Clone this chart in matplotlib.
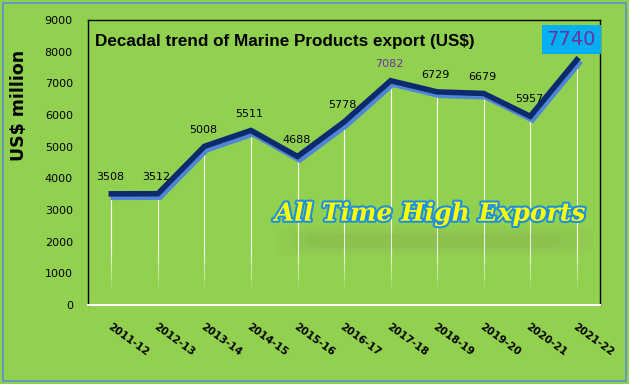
import matplotlib.pyplot as plt
import matplotlib.patheffects as pe
from matplotlib.patches import Rectangle, FancyBboxPatch

years = ['2011-12', '2012-13', '2013-14', '2014-15', '2015-16', '2016-17',
         '2017-18', '2018-19', '2019-20', '2020-21', '2021-22']
exports = [3508, 3512, 5008, 5511, 4688, 5778, 7082, 6729, 6679, 5957, 7740]
yticks = [0, 1000, 2000, 3000, 4000, 5000, 6000, 7000, 8000, 9000]

green = '#92D050'
navy = '#0E2A6E'

fig = plt.figure(figsize=(6.29, 3.84), dpi=100, facecolor=green)
ax = fig.add_axes([0.140, 0.206, 0.814, 0.742])
ax.set_facecolor(green)

x = list(range(len(years)))

# white drop lines, solid then fading near the axis
for i, v in zip(x, exports):
    ax.plot([i, i], [1800, v], color='white', lw=0.8, zorder=1)
    steps = 8
    for k in range(steps):
        y0 = 500 + 1300 * k / steps
        y1 = 500 + 1300 * (k + 1) / steps
        ax.plot([i, i], [y0, y1], color='white', lw=0.8,
                alpha=(k + 1) / (steps + 1), zorder=1)

ax.plot(x, exports, color=navy, lw=4, solid_joinstyle='miter', zorder=3,
        path_effects=[pe.SimpleLineShadow(offset=(1.5, -2.5), shadow_color='#4F86D6', alpha=1),
                      pe.Normal()])

for i, v in zip(x, exports):
    if years[i] == '2021-22':
        continue
    col = '#7030A0' if years[i] == '2017-18' else 'black'
    ax.annotate(str(v), (i, v), xytext=(-1, 8.5), textcoords='offset points',
                ha='center', va='bottom', fontsize=8, color=col)

ax.annotate(str(exports[-1]), (x[-1], exports[-1]), xytext=(-4, 8), textcoords='offset points',
            ha='center', va='bottom', fontsize=14, color='#7030A0',
            bbox=dict(boxstyle='square,pad=0.25', fc='#00B0F0', ec='none'))

ax.set_xlim(-0.5, len(years) - 0.5)
ax.set_ylim(0, 9000)
ax.set_yticks(yticks)
ax.set_xticks(x)
ax.set_xticklabels(years, rotation=-36, ha='left', va='top', fontsize=7.5,
                   fontweight='bold', rotation_mode='anchor')
ax.tick_params(axis='x', length=0, pad=12)
ax.tick_params(axis='y', length=0, pad=11, labelsize=8)

for s in ['left', 'top', 'right']:
    ax.spines[s].set_color('black')
    ax.spines[s].set_linewidth(1)
ax.spines['bottom'].set_color('white')
ax.spines['bottom'].set_linewidth(1.5)

ax.text(0.013, 0.926, 'Decadal trend of Marine Products export (US$)', transform=ax.transAxes,
        fontsize=12.3, fontweight='bold', family='Liberation Sans', va='center')
ax.set_ylabel('US$ million', fontsize=12.5, fontweight='bold')
ax.yaxis.set_label_coords(-0.117, 0.70)

# soft grey smudge under the banner
for w, h, a in [(0.62, 0.10, 0.04), (0.56, 0.07, 0.05), (0.50, 0.045, 0.06)]:
    ax.add_patch(FancyBboxPatch((0.675 - w / 2, 0.225 - h / 2), w, h,
                                boxstyle='round,pad=0,rounding_size=0.03',
                                transform=ax.transAxes, fc='#6E6E50', ec='none',
                                alpha=a, zorder=2))
ax.text(0.668, 0.32, 'All Time High Exports', transform=ax.transAxes,
        ha='center', va='center', fontsize=18, family='DejaVu Serif',
        fontweight='bold', style='italic', color='#FFFF00', zorder=4,
        path_effects=[pe.withStroke(linewidth=3, foreground='#1E90E0')])

fig.patches.append(Rectangle((0.005, 0.008), 0.99, 0.984, transform=fig.transFigure,
                             fill=False, ec='#5B8FD6', lw=1.2))

fig.savefig('out.png', dpi=100, facecolor=green)
